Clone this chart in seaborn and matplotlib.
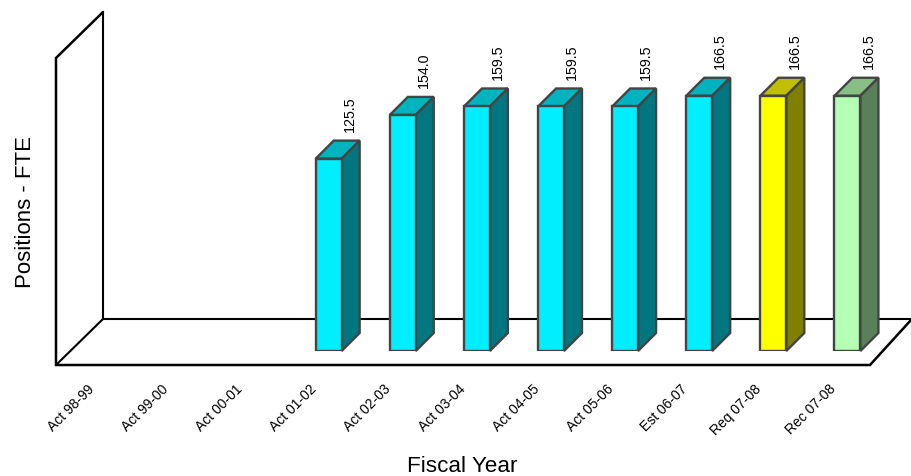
import matplotlib
matplotlib.use("Agg")
import matplotlib.pyplot as plt
from matplotlib.transforms import ScaledTranslation
from matplotlib.colors import to_rgb
import seaborn as sns
import pandas as pd
import numpy as np

years = ["Act 98-99", "Act 99-00", "Act 00-01", "Act 01-02", "Act 02-03", "Act 03-04",
         "Act 04-05", "Act 05-06", "Est 06-07", "Req 07-08", "Rec 07-08"]
fte = [np.nan, np.nan, np.nan, 125.5, 154.0, 159.5, 159.5, 159.5, 166.5, 166.5, 166.5]
colors = ["#00EEFF"] * 9 + ["#FFFF00", "#B4FFB4"]

W, H = 911, 476
EDGE = "#444444"
DEPTH = 18  # px, bar depth

sns.set_theme(style="white")
plt.rcParams["font.family"] = ["Liberation Sans", "DejaVu Sans"]

df = pd.DataFrame({"year": years, "fte": fte})

fig = plt.figure(figsize=(W / 100, H / 100), dpi=100)

# frame of the fake 3d box, in pixels
bg = fig.add_axes([0, 0, 1, 1], zorder=0)
bg.set_xlim(0, W)
bg.set_ylim(H, 0)
bg.axis("off")
bg.plot([103, 103, 911], [12, 319, 319], color="black", lw=1.5, solid_joinstyle="miter")
bg.plot([103, 56, 56, 870, 911], [12, 58, 365, 365, 320], color="black", lw=1.8, solid_joinstyle="miter")
bg.plot([56, 103], [365, 319], color="black", lw=1.5)

# bar axes, 74.1 px per category and 1.533 px per FTE
left, right, base, top = 69.3, 884.5, 351, 58
ax = fig.add_axes([left / W, 1 - base / H, (right - left) / W, (base - top) / H], zorder=1)
ax.patch.set_alpha(0)
sns.barplot(data=df, x="year", y="fte", hue="year", order=years, hue_order=years,
            palette=dict(zip(years, colors)), dodge=False, legend=False, width=0.35,
            edgecolor=EDGE, linewidth=1.7, saturation=1, ax=ax, zorder=3)
ax.set_xlim(-0.5, 10.5)
ax.set_ylim(0, (base - top) / 1.533)
sns.despine(ax=ax, left=True, bottom=True)
ax.set_yticks([])
ax.tick_params(axis="x", length=0, pad=26, labelsize=10, labelcolor="black")
ax.set_xlabel("")
ax.set_ylabel("")

offset = ScaledTranslation(-14 / 100, 0, fig.dpi_scale_trans)
for lab in ax.get_xticklabels():
    lab.set_rotation(45)
    lab.set_ha("right")
    lab.set_va("center")
    lab.set_rotation_mode("anchor")
    lab.set_transform(lab.get_transform() + offset)

dx = DEPTH * 11 / (right - left)
dy = DEPTH / 1.533
for p in ax.patches:
    h = p.get_height()
    if np.isnan(h) or h == 0:
        continue
    x0, w = p.get_x(), p.get_width()
    x1 = x0 + w
    rgb = np.array(to_rgb(p.get_facecolor()[:3]))
    ax.fill([x0, x0 + dx, x1 + dx, x1], [h, h + dy, h + dy, h], facecolor=rgb * 0.75,
            edgecolor=EDGE, lw=1.7, zorder=2, clip_on=False)
    ax.fill([x1, x1 + dx, x1 + dx, x1], [0, dy, h + dy, h], facecolor=rgb * 0.5,
            edgecolor=EDGE, lw=1.7, zorder=2, clip_on=False)
    ax.text(x1 + dx * 0.45, h + dy + 5.5, f"{h:.1f}", rotation=90, ha="center", va="bottom",
            fontsize=10.3, color="black", clip_on=False)

fig.text(462 / W, 1 - 466 / H, "Fiscal Year", fontsize=16.2, color="black", ha="center", va="center")
fig.text(26 / W, 1 - 212 / H, "Positions - FTE", fontsize=16, color="black", rotation=90, ha="center", va="center")

fig.savefig("out.png", dpi=100)
